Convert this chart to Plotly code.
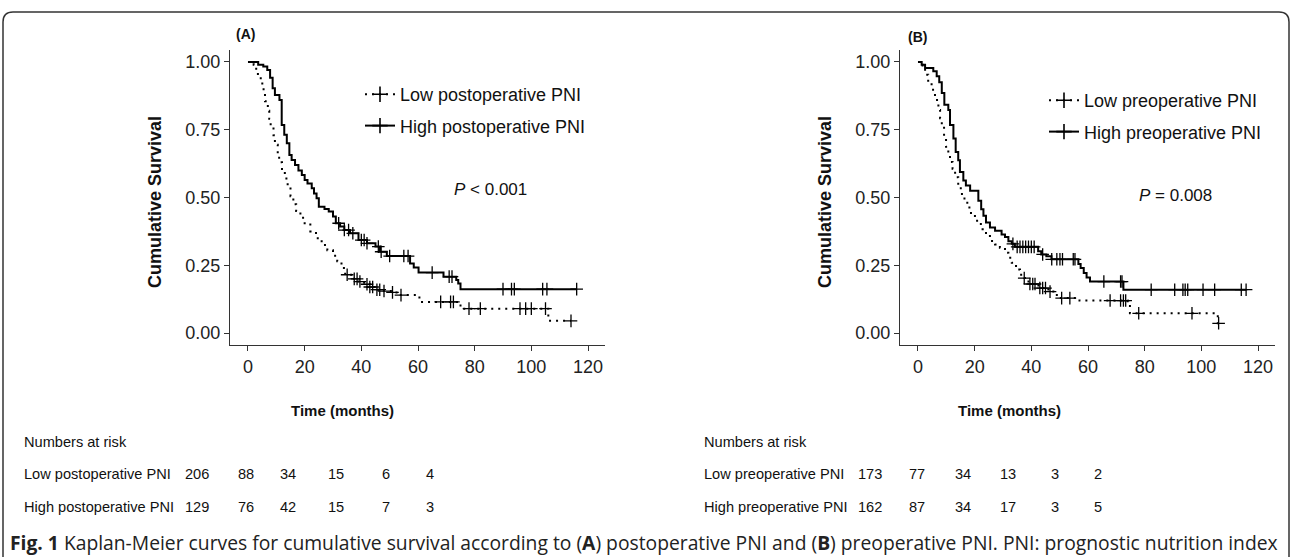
import plotly.graph_objects as go

W, H = 1292, 557

# ---------------- data ----------------
time_ticks = [0, 20, 40, 60, 80, 100, 120]
surv_ticks = [0.0, 0.25, 0.50, 0.75, 1.00]

# Panel A: postoperative PNI
a_low_t = [0, 2.0, 2.5, 3.5, 4.5, 5.5, 6.0, 7.0, 7.5, 8.0, 9.0, 9.5, 10.5, 11.0, 12.0, 13.0,
           14.0, 15.0, 16.0, 17.0, 18.5, 20.0, 22.0, 24.0, 26.0, 28.0, 30.0, 31.5, 33.0, 34.3,
           37.0, 39.0, 41.0, 43.0, 45.0, 47.0, 51.0, 53.5, 60.5, 75.0, 106.0]
a_low_s = [1.0, 0.99, 0.975, 0.95, 0.92, 0.885, 0.855, 0.82, 0.79, 0.76, 0.73, 0.695, 0.66, 0.63,
           0.60, 0.57, 0.54, 0.505, 0.475, 0.45, 0.425, 0.40, 0.375, 0.35, 0.325, 0.305, 0.285,
           0.265, 0.24, 0.215, 0.20, 0.19, 0.18, 0.17, 0.16, 0.155, 0.15, 0.14, 0.115, 0.09, 0.045]
a_low_cens = [35, 37.5, 38.5, 39.5, 42, 43, 44, 45.5, 46.5, 48, 51, 54, 68, 71.5, 72.5, 78, 82,
              96, 98, 100, 105, 114]

a_high_t = [0, 3.6, 5.4, 6.8, 7.8, 8.7, 9.5, 11.1, 11.9, 12.8, 13.7, 14.6, 15.4, 16.6, 17.8, 19.0,
            20.0, 21.0, 22.5, 23.3, 24.2, 25.0, 27.0, 28.5, 30.0, 31.0, 32.5, 34.0, 36.0, 39.0,
            42.0, 45.0, 46.6, 49.0, 57.2, 58.5, 60.2, 69.0, 73.5, 74.2, 75.0]
a_high_s = [1.0, 0.99, 0.983, 0.97, 0.942, 0.903, 0.878, 0.86, 0.767, 0.731, 0.70, 0.657, 0.638,
            0.62, 0.60, 0.583, 0.565, 0.552, 0.534, 0.515, 0.497, 0.466, 0.458, 0.448, 0.43,
            0.405, 0.393, 0.38, 0.368, 0.343, 0.331, 0.319, 0.30, 0.284, 0.257, 0.242, 0.223,
            0.208, 0.196, 0.183, 0.162]
a_high_cens = [32, 34, 35.5, 37, 40, 41, 42, 46, 47, 50, 55, 56.5, 65, 71, 72, 90, 93, 94, 104,
               105.5, 116]

# Panel B: preoperative PNI
b_low_t = [0, 0.8, 1.6, 2.5, 3.6, 4.8, 6.0, 7.2, 7.8, 8.4, 9.2, 9.9, 10.7, 11.3, 12.2, 13.1,
           14.2, 15.1, 16.4, 17.4, 18.7, 20.1, 21.3, 22.8, 24.0, 25.4, 27.2, 28.9, 30.7, 31.9,
           33.1, 34.6, 36.0, 37.5, 39.0, 42.5, 46.0, 49.0, 57.0, 74.0, 74.8, 105.8]
b_low_s = [1.0, 0.99, 0.975, 0.953, 0.922, 0.897, 0.86, 0.823, 0.792, 0.761, 0.724, 0.687, 0.655,
           0.631, 0.606, 0.575, 0.544, 0.513, 0.488, 0.463, 0.439, 0.414, 0.402, 0.383, 0.358,
           0.34, 0.327, 0.315, 0.296, 0.278, 0.259, 0.234, 0.215, 0.203, 0.181, 0.166, 0.153,
           0.129, 0.12, 0.10, 0.073, 0.036]
b_low_cens = [37.5, 39.5, 40.5, 41.3, 43, 44, 45, 46.6, 50.7, 53.6, 67.8, 71.5, 72.5, 73.3, 77.9,
              96.7, 106.1]

b_high_t = [0, 1.3, 2.5, 5.4, 6.6, 7.5, 8.4, 9.3, 10.7, 11.3, 12.5, 13.3, 14.2, 14.8, 16.0, 16.9,
            18.4, 21.3, 22.3, 23.1, 24.0, 25.4, 27.2, 29.5, 30.7, 31.9, 33.1, 34.2, 42.4, 43.5,
            45.3, 47.1, 56.6, 57.4, 58.5, 59.5, 60.7, 72.5]
b_high_s = [1.0, 0.99, 0.978, 0.966, 0.947, 0.925, 0.885, 0.842, 0.823, 0.767, 0.718, 0.668,
            0.637, 0.594, 0.563, 0.544, 0.525, 0.488, 0.457, 0.433, 0.408, 0.389, 0.377, 0.364,
            0.354, 0.339, 0.329, 0.318, 0.302, 0.29, 0.283, 0.272, 0.255, 0.24, 0.222, 0.205,
            0.19, 0.16]
b_high_cens = [33.5, 35, 36, 37, 38, 39, 40, 41, 44, 47.2, 49, 50.1, 51, 54.8, 55.4, 65.6, 71.5,
               72, 82.3, 90.6, 93.5, 94.3, 95.2, 100.6, 104.7, 114.1, 115.8]

a_names = ["Low postoperative PNI", "High postoperative PNI"]
b_names = ["Low preoperative PNI", "High preoperative PNI"]
p_texts = ["<i>P</i> &lt; 0.001", "<i>P</i> = 0.008"]
panel_labels = ["(A)", "(B)"]

risk_a_low = [206, 88, 34, 15, 6, 4]
risk_a_high = [129, 76, 42, 15, 7, 3]
risk_b_low = [173, 77, 34, 13, 3, 2]
risk_b_high = [162, 87, 34, 17, 3, 5]

caption = ("<b>Fig. 1</b> Kaplan-Meier curves for cumulative survival according to (<b>A</b>) "
           "postoperative PNI and (<b>B</b>) preoperative PNI. PNI: prognostic nutrition index")

# ---------------- helpers ----------------
def px(x):
    return x / W

def py(y):
    return 1 - y / H

def surv_at(times, surv, t):
    s = surv[0]
    for ti, si in zip(times, surv):
        if ti <= t:
            s = si
    return s

FONT = "Liberation Sans, Arial, sans-serif"
DOT = "2px,5px"

fig = go.Figure()

def add_curve(times, surv, cens, dash, name, xa, ya, legend):
    end = max(max(cens), times[-1])
    xs = list(times) + [end]
    ys = list(surv) + [surv[-1]]
    fig.add_trace(go.Scatter(x=xs, y=ys, mode="lines", line_shape="hv",
                             line=dict(color="black", width=2, dash=dash),
                             xaxis=xa, yaxis=ya, showlegend=False, hoverinfo="skip"))
    fig.add_trace(go.Scatter(x=cens, y=[surv_at(times, surv, c) for c in cens], mode="markers",
                             marker=dict(symbol="cross-thin", size=9, color="black",
                                         line=dict(color="black", width=1.3)),
                             xaxis=xa, yaxis=ya, showlegend=False, hoverinfo="skip"))
    fig.add_trace(go.Scatter(x=[None], y=[None], mode="lines+markers", name=name,
                             line=dict(color="black", width=2, dash=dash),
                             marker=dict(symbol="cross-thin", size=11, color="black",
                                         line=dict(color="black", width=1.6)),
                             xaxis=xa, yaxis=ya, legend=legend, legendgroup=name))

add_curve(a_low_t, a_low_s, a_low_cens, DOT, a_names[0], "x", "y", "legend")
add_curve(a_high_t, a_high_s, a_high_cens, "solid", a_names[1], "x", "y", "legend")
add_curve(b_low_t, b_low_s, b_low_cens, DOT, b_names[0], "x2", "y2", "legend2")
add_curve(b_high_t, b_high_s, b_high_cens, "solid", b_names[1], "x2", "y2", "legend2")

AX = "#333333"
axis_common = dict(showline=True, linecolor=AX, linewidth=1.3, ticks="outside", ticklen=5,
                   tickwidth=1.3, tickcolor=AX, showgrid=False, zeroline=False,
                   tickfont=dict(family=FONT, size=18, color="#222222"))
xr = [-6.35, 126]
yr = [-0.044, 1.044]
ydom = [py(345), py(50)]

fig.update_layout(
    xaxis=dict(domain=[px(230), px(605)], range=xr, tickvals=time_ticks, anchor="y", **axis_common),
    yaxis=dict(domain=ydom, range=yr, tickvals=surv_ticks, tickformat=".2f", anchor="x", **axis_common),
    xaxis2=dict(domain=[px(900), px(1275)], range=xr, tickvals=time_ticks, anchor="y2", **axis_common),
    yaxis2=dict(domain=ydom, range=yr, tickvals=surv_ticks, tickformat=".2f", anchor="x2", **axis_common),
)

leg_common = dict(xanchor="left", yanchor="top", bgcolor="rgba(0,0,0,0)", tracegroupgap=5,
                  font=dict(family=FONT, size=18, color="#111111"), itemwidth=30)
fig.update_layout(
    legend=dict(x=px(360), y=py(76), **leg_common),
    legend2=dict(x=px(1044), y=py(82), **leg_common),
)

ann = []
def text(x, y, s, size, xanchor="center", bold=False, angle=0, family=FONT, color="#111111"):
    ann.append(dict(x=px(x), y=py(y), xref="paper", yref="paper", text=(f"<b>{s}</b>" if bold else s),
                    showarrow=False, xanchor=xanchor, yanchor="middle", textangle=angle,
                    font=dict(family=family, size=size, color=color)))

# panel labels, p-values, axis titles
text(245, 34, panel_labels[0], 14, bold=True)
text(917, 37, panel_labels[1], 14, bold=True)
text(490, 190, p_texts[0], 17)
text(1175, 195, p_texts[1], 17)
for xc in (155, 825):
    text(xc, 202, "Cumulative Survival", 18, bold=True, angle=-90)
text(342, 410, "Time (months)", 15, bold=True)
text(1009, 410, "Time (months)", 15, bold=True)

# numbers at risk tables
TS = 14.6
cols_a = [197, 246, 288, 336, 386, 430]
cols_b = [870, 917, 963, 1008, 1055, 1098]
text(22, 442, "Numbers at risk", TS, xanchor="left")
text(702, 442, "Numbers at risk", TS, xanchor="left")
text(22, 474, a_names[0], TS, xanchor="left")
text(22, 507, a_names[1], TS, xanchor="left")
text(702, 474, b_names[0], TS, xanchor="left")
text(702, 507, b_names[1], TS, xanchor="left")
for xc, v in zip(cols_a, risk_a_low):
    text(xc, 474, str(v), TS)
for xc, v in zip(cols_a, risk_a_high):
    text(xc, 507, str(v), TS)
for xc, v in zip(cols_b, risk_b_low):
    text(xc, 474, str(v), TS)
for xc, v in zip(cols_b, risk_b_high):
    text(xc, 507, str(v), TS)

# caption
text(8, 542, caption, 19.3, xanchor="left", family="Open Sans, Noto Sans, sans-serif", color="#222222")

fig.update_layout(
    annotations=ann,
    shapes=[dict(type="path", xref="paper", yref="paper",
                 path=(f"M {px(3)},{py(560)} L {px(3)},{py(22)} Q {px(3)},{py(12)} {px(13)},{py(12)} "
                       f"L {px(1279)},{py(12)} Q {px(1289)},{py(12)} {px(1289)},{py(22)} L {px(1289)},{py(560)}"),
                 line=dict(color="#333333", width=1.5))],
    width=W, height=H, margin=dict(l=0, r=0, t=0, b=0),
    paper_bgcolor="white", plot_bgcolor="white",
    font=dict(family=FONT),
)

fig.write_html("out.html")
